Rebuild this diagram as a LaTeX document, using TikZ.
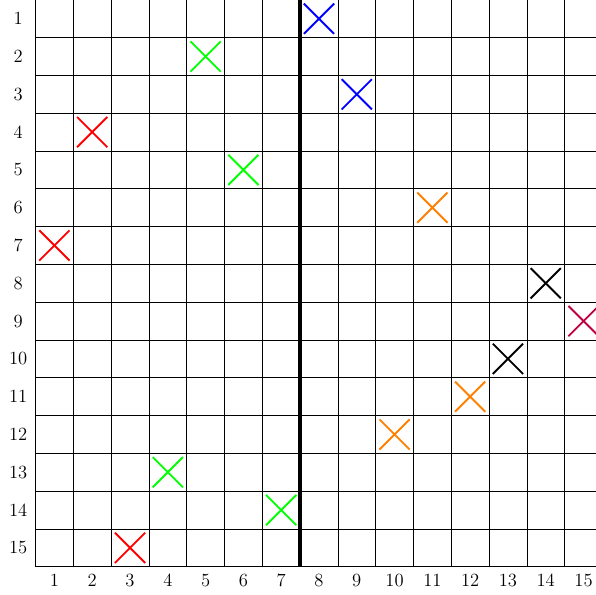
\documentclass[tikz,border=0pt]{standalone}
\begin{document}
\begin{tikzpicture}[x=1cm,y=-1cm,
  gridline/.style={line width=0.5pt,black},
  wall/.style={line width=3.6pt,black},
  cross/.style={line width=1.4pt},
  lab/.style={font=\fontsize{14}{16}\selectfont,inner sep=0pt}]
\useasboundingbox (-0.94,0.005) rectangle (14.83,15.74);
\draw[gridline] (0,0) grid (15,15);
\draw[wall] (7,0) -- (7,15);
\foreach \i in {1,...,15}{
  \node[lab] (r\i) at (-0.46,\i-0.5) {\i};
  \node[lab] (c\i) at (\i-0.5,15.36) {\i};
}
\newcommand{\mycross}[3]{%
  \draw[cross,#3] (#1-0.9,#2-0.9) -- (#1-0.1,#2-0.1);
  \draw[cross,#3] (#1-0.9,#2-0.1) -- (#1-0.1,#2-0.9);}
\mycross{8}{1}{blue}
\mycross{9}{3}{blue}
\mycross{5}{2}{green}
\mycross{6}{5}{green}
\mycross{4}{13}{green}
\mycross{7}{14}{green}
\mycross{2}{4}{red}
\mycross{1}{7}{red}
\mycross{3}{15}{red}
\mycross{11}{6}{orange}
\mycross{12}{11}{orange}
\mycross{10}{12}{orange}
\mycross{14}{8}{black}
\mycross{13}{10}{black}
\mycross{15}{9}{purple}
\end{tikzpicture}
\end{document}
